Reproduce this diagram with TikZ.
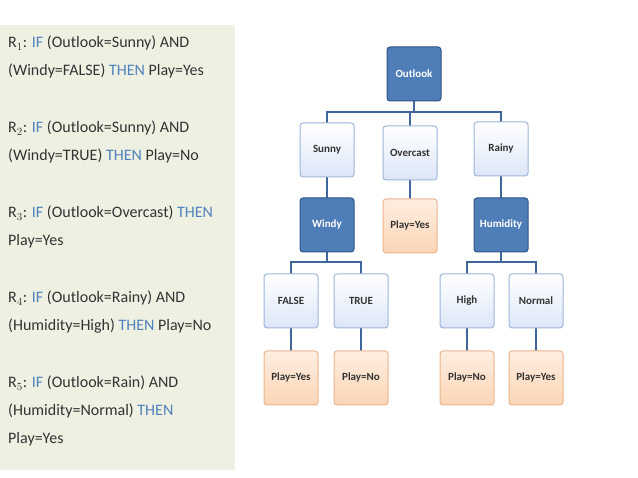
\documentclass[tikz,border=0pt]{standalone}
\usepackage{fontspec}
\setmainfont{Carlito}
\definecolor{panel}{HTML}{EEF1E2}
\definecolor{kw}{HTML}{4F81BD}
\definecolor{dk}{HTML}{4F7DB8}
\definecolor{dkb}{HTML}{2F5587}
\definecolor{lt}{HTML}{DCE6F8}
\definecolor{ltb}{HTML}{9DB5DA}
\definecolor{org}{HTML}{FBD5B5}
\definecolor{orgb}{HTML}{E8B48C}
\definecolor{ln}{HTML}{3F679C}
\begin{document}
\begin{tikzpicture}[x=1pt,y=-1pt,
 box/.style={rounded corners=3pt,minimum width=54pt,minimum height=54pt,font=\fontsize{11}{13}\selectfont\bfseries,line width=1pt,inner sep=1pt},
 dark/.style={box,fill=dk,draw=dkb,text=white},
 light/.style={box,top color=white,bottom color=lt,draw=ltb,text=black!80},
 leaf/.style={box,top color=org!40,bottom color=org,draw=orgb,text=black!80},
 edge/.style={draw=ln,line width=1.6pt},
 rule/.style={anchor=north west,align=left,font=\fontsize{16}{28}\selectfont,text=black!80,inner sep=0pt}]
\useasboundingbox (0,0) rectangle (638,478);
\fill[panel] (0,25) rectangle (235,470);
\newcommand\K[1]{\textcolor{kw}{#1}}
\node[rule] (r1) at (8,36) {R$_1$: \K{IF} (Outlook=Sunny) AND\\(Windy=FALSE) \K{THEN} Play=Yes};
\node[rule] (r2) at (8,121) {R$_2$: \K{IF} (Outlook=Sunny) AND\\(Windy=TRUE) \K{THEN} Play=No};
\node[rule] (r3) at (8,206) {R$_3$: \K{IF} (Outlook=Overcast) \K{THEN}\\Play=Yes};
\node[rule] (r4) at (8,291) {R$_4$: \K{IF} (Outlook=Rainy) AND\\(Humidity=High) \K{THEN} Play=No};
\node[rule] (r5) at (8,376) {R$_5$: \K{IF} (Outlook=Rain) AND\\(Humidity=Normal) \K{THEN}\\Play=Yes};
\coordinate (b1) at (414,112);
\coordinate (b2) at (327,262);
\coordinate (b3) at (501,262);
\draw[edge] (414,74) -- (b1);
\draw[edge] (327,150) |- (b1) -| (501,150);
\draw[edge] (b1) -| (410,153);
\draw[edge] (327,150) -- (327,225) -- (b2);
\draw[edge] (410,153) -- (410,226);
\draw[edge] (501,150) -- (501,225) -- (b3);
\draw[edge] (291,378) |- (b2) -| (361,378);
\draw[edge] (467,378) |- (b3) -| (536,378);
\node[dark] (outlook) at (414,74) {Outlook};
\node[light] (sunny) at (327,150) {Sunny};
\node[light] (overcast) at (410,153) {Overcast};
\node[light] (rainy) at (501,149) {Rainy};
\node[dark] (windy) at (327,225) {Windy};
\node[leaf] (py0) at (410,226) {Play=Yes};
\node[dark] (hum) at (501,225) {Humidity};
\node[light] (false) at (291,301) {FALSE};
\node[light] (true) at (361,301) {TRUE};
\node[light] (high) at (467,301) {High};
\node[light] (normal) at (536,301) {Normal};
\node[leaf] (py1) at (291,378) {Play=Yes};
\node[leaf] (pn1) at (361,378) {Play=No};
\node[leaf] (pn2) at (467,378) {Play=No};
\node[leaf] (py2) at (536,378) {Play=Yes};
\end{tikzpicture}
\end{document}
